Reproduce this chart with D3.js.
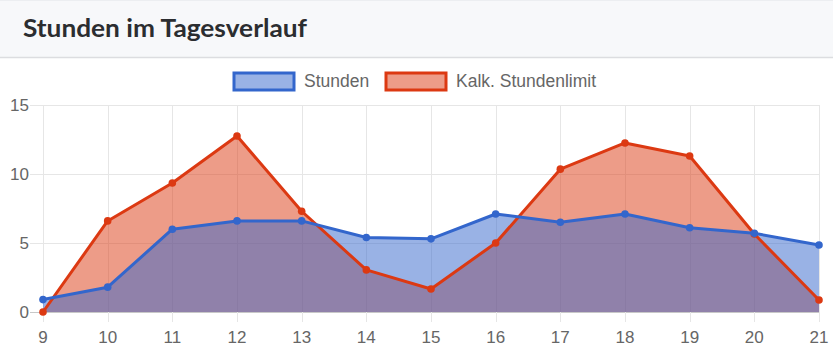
<!DOCTYPE html>
<html><head><meta charset="utf-8">
<script src="https://cdn.jsdelivr.net/npm/d3@7"></script>
<style>
html,body{margin:0;padding:0;background:#fff;}
svg{display:block;}
</style></head>
<body>
<svg id="c" width="833" height="356"></svg>
<script>
const hours = [9,10,11,12,13,14,15,16,17,18,19,20,21];
const stunden = [0.9,1.8,6.0,6.6,6.6,5.4,5.3,7.1,6.5,7.1,6.1,5.7,4.85];
const limit = [0,6.6,9.35,12.75,7.3,3.05,1.67,5.0,10.35,12.25,11.3,5.65,0.87];
const yTicks = [0,5,10,15];
const seriesNames = ["Stunden","Kalk. Stundenlimit"];
const seriesColors = ["#3366cc","#dc3912"];

const svg = d3.select("#c");
const W = 833, H = 356;

// header card
svg.append("rect").attr("x",0).attr("y",0).attr("width",W).attr("height",57).attr("fill","#f7f8fa");
svg.append("line").attr("x1",0).attr("x2",W).attr("y1",57.5).attr("y2",57.5).attr("stroke","#dcdde0").attr("stroke-width",1.5);
svg.append("line").attr("x1",0).attr("x2",W).attr("y1",0.5).attr("y2",0.5).attr("stroke","#eceef1").attr("stroke-width",1);
svg.append("text").attr("x",23).attr("y",37)
  .attr("font-family","Lato, 'Open Sans', sans-serif").attr("font-weight",700)
  .attr("font-size",24).attr("fill","#2b2d30")
  .attr("textLength",284).attr("lengthAdjust","spacingAndGlyphs")
  .text("Stunden im Tagesverlauf");

const x = d3.scaleLinear().domain([9,21]).range([43,819]);
const y = d3.scaleLinear().domain([0,15]).range([312,105]);

const g = svg.append("g");
const font = "'Liberation Sans', Arial, sans-serif";

// horizontal gridlines
g.selectAll(".hg").data(yTicks).enter().append("line")
  .attr("x1",30).attr("x2",819).attr("y1",d=>y(d)+0.5).attr("y2",d=>y(d)+0.5)
  .attr("stroke",d=>d===0?"#c8c8c8":"#e6e6e6").attr("stroke-width",1);
// vertical gridlines
g.selectAll(".vg").data(hours).enter().append("line")
  .attr("x1",d=>Math.round(x(d))+0.5).attr("x2",d=>Math.round(x(d))+0.5).attr("y1",105).attr("y2",322)
  .attr("stroke","#e6e6e6").attr("stroke-width",1);

// y tick labels
g.selectAll(".yl").data(yTicks).enter().append("text")
  .attr("x",29).attr("y",d=>y(d)).attr("dy","0.35em").attr("text-anchor","end")
  .attr("font-family",font).attr("font-size",17).attr("fill","#666")
  .text(d=>d);
// x tick labels
g.selectAll(".xl").data(hours).enter().append("text")
  .attr("x",d=>x(d)).attr("y",343).attr("text-anchor","middle")
  .attr("font-family",font).attr("font-size",17).attr("fill","#666")
  .text(d=>d);

const datasets = [stunden, limit];
const area = d3.area().x((d,i)=>x(hours[i])).y0(y(0)).y1(d=>y(d));
const line = d3.line().x((d,i)=>x(hours[i])).y(d=>y(d));

// fills first (limit below, Stunden above)
for (let k = datasets.length-1; k>=0; k--) {
  g.append("path").datum(datasets[k]).attr("d",area).attr("fill",seriesColors[k]).attr("fill-opacity",0.5);
}
// then lines and points
for (let k = datasets.length-1; k>=0; k--) {
  const data = datasets[k], col = seriesColors[k];
  const gg = g.append("g");
  gg.append("path").datum(data).attr("d",line).attr("fill","none").attr("stroke",col).attr("stroke-width",3).attr("stroke-linejoin","round");
  gg.selectAll("circle").data(data).enter().append("circle")
    .attr("cx",(d,i)=>x(hours[i])).attr("cy",d=>y(d)).attr("r",3.8).attr("fill",col);
}

// legend
const legendX = [234, 386];
const lg = svg.append("g");
seriesNames.forEach((n,i)=>{
  const col = seriesColors[i];
  lg.append("rect").attr("x",legendX[i]).attr("y",73).attr("width",60).attr("height",17)
    .attr("fill",col).attr("fill-opacity",0.5).attr("stroke",col).attr("stroke-width",3);
  lg.append("text").attr("x",legendX[i]+70).attr("y",87)
    .attr("font-family",font).attr("font-size",17.5).attr("fill","#666").text(n);
});
</script>
</body></html>
